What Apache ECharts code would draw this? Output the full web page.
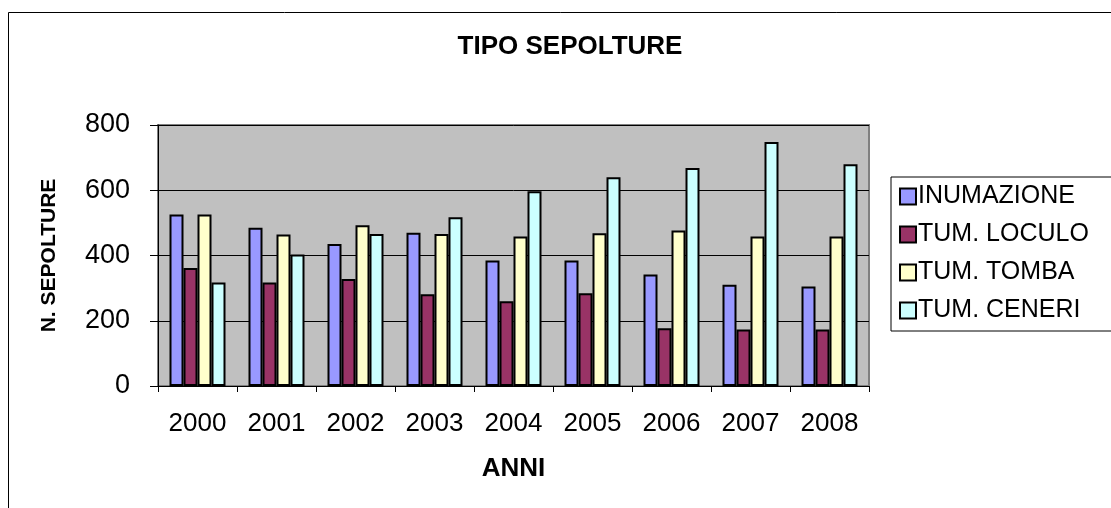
<!DOCTYPE html>
<html>
<head>
<meta charset="utf-8">
<script src="https://cdn.jsdelivr.net/npm/echarts@6/dist/echarts.min.js"></script>
<style>
  html, body { margin: 0; padding: 0; background: #fff; }
  #chart { width: 1111px; height: 508px; }
</style>
</head>
<body>
<div id="chart"></div>
<script>
// dati
const anni = ['2000', '2001', '2002', '2003', '2004', '2005', '2006', '2007', '2008'];
const inumazione = [526, 485, 435, 470, 385, 385, 342, 310, 305];
const tumLoculo = [362, 317, 328, 281, 260, 284, 177, 173, 173];
const tumTomba = [526, 464, 493, 466, 458, 468, 477, 458, 458];
const tumCeneri = [317, 403, 466, 517, 597, 640, 668, 748, 680];
const yTicks = [0, 200, 400, 600, 800];

const font = 'Liberation Sans, Arial, sans-serif';

const serie = [
  { name: 'INUMAZIONE', data: inumazione, color: '#9999FF' },
  { name: 'TUM. LOCULO', data: tumLoculo, color: '#993366' },
  { name: 'TUM. TOMBA', data: tumTomba, color: '#FFFFCC' },
  { name: 'TUM. CENERI', data: tumCeneri, color: '#CCFFFF' }
];

const chart = echarts.init(document.getElementById('chart'));
const option = {
  animation: false,
  backgroundColor: '#fff',
  title: {
    text: 'TIPO SEPOLTURE',
    left: 565,
    top: 29,
    textAlign: 'center',
    textStyle: { fontFamily: font, fontSize: 26, fontWeight: 'bold', color: '#000' }
  },
  graphic: [
    {
      // cornice esterna, esce a destra e in basso come nell'originale
      type: 'rect',
      shape: { x: 8.5, y: 12.5, width: 1130, height: 520 },
      style: { fill: 'none', stroke: '#000', lineWidth: 1 },
      z: -1
    }
  ],
  legend: {
    orient: 'vertical',
    left: 891,
    top: 177,
    padding: [7, 40, 8, 8],
    itemGap: 13,
    itemWidth: 16,
    itemHeight: 16,
    borderColor: '#000',
    borderWidth: 1,
    icon: 'rect',
    itemStyle: { borderColor: '#000', borderWidth: 2 },
    textStyle: { fontFamily: font, fontSize: 25, color: '#000', padding: [0, 0, 0, -3] },
    data: serie.map(s => s.name)
  },
  grid: {
    left: 158,
    right: 242,
    top: 125,
    bottom: 122,
    show: true,
    backgroundColor: '#C0C0C0',
    borderColor: '#808080',
    borderWidth: 2
  },
  xAxis: {
    type: 'category',
    data: anni,
    name: 'ANNI',
    nameLocation: 'middle',
    nameGap: 70,
    nameTextStyle: { fontFamily: font, fontSize: 26, fontWeight: 'bold', color: '#000' },
    axisLine: { lineStyle: { color: '#000', width: 1 } },
    axisTick: { show: true, length: 6, lineStyle: { color: '#000' } },
    axisLabel: { fontFamily: font, fontSize: 26, color: '#000', margin: 25 }
  },
  yAxis: {
    type: 'value',
    min: yTicks[0],
    max: yTicks[yTicks.length - 1],
    interval: 200,
    name: 'N. SEPOLTURE',
    nameLocation: 'middle',
    nameGap: 98,
    nameTextStyle: { fontFamily: font, fontSize: 21, fontWeight: 'bold', color: '#000' },
    axisLine: { show: true, lineStyle: { color: '#000', width: 1 } },
    axisTick: { show: true, length: 8, lineStyle: { color: '#000' } },
    axisLabel: { fontFamily: font, fontSize: 27, color: '#000', margin: 28 },
    splitLine: { lineStyle: { color: '#000', width: 1 } }
  },
  series: serie.map(s => ({
    name: s.name,
    type: 'bar',
    data: s.data,
    barWidth: 14,
    barGap: '0%',
    itemStyle: { color: s.color, borderColor: '#000', borderWidth: 2 }
  }))
};
chart.setOption(option);
</script>
</body>
</html>
